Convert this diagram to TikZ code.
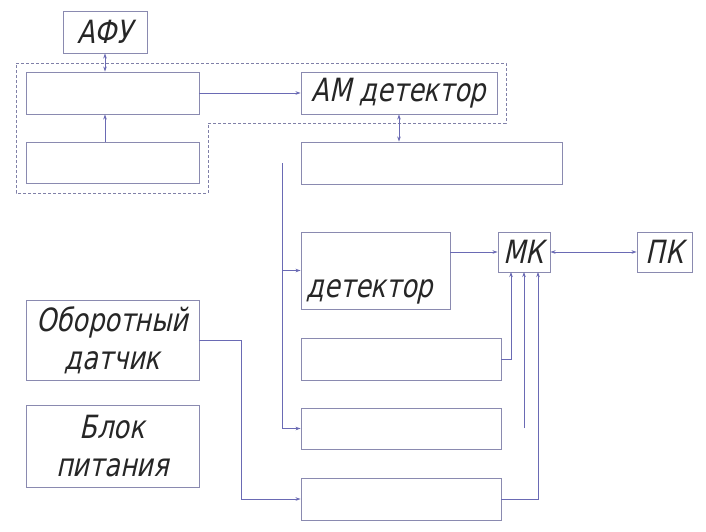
\documentclass[tikz,border=0pt]{standalone}
\usepackage{fontspec}
\newfontfamily\gost[FakeSlant=0.22,FakeStretch=0.8]{DejaVu Sans}
\usetikzlibrary{arrows.meta}
\definecolor{boxc}{HTML}{8A8AB0}
\definecolor{linec}{HTML}{6A6AB4}
\definecolor{dashc}{HTML}{8080A8}
\tikzset{
  gfont/.style={font=\gost\fontsize{32}{38}\selectfont},
  blk/.style={draw=boxc, line width=0.9pt, inner sep=0pt, gfont, align=center, text=black!85},
  conn/.style={draw=linec, line width=0.8pt},
  arr/.style={conn, -{Stealth[length=5pt,width=3.5pt]}},
  biarr/.style={conn, {Stealth[length=5pt,width=3.5pt]}-{Stealth[length=5pt,width=3.5pt]}},
  frame/.style={draw=dashc, line width=0.8pt, dash pattern=on 3pt off 2pt}
}
\begin{document}
\begin{tikzpicture}[x=1pt,y=-1pt]
\useasboundingbox[fill=white] (0,0) rectangle (706,531);
% dashed frame
\draw[frame] (16,63) -- (506,63) -- (506,123) -- (208,123) -- (208,193) -- (16,193) -- cycle;
% blocks
\node[blk, minimum width=84pt, minimum height=42pt] (afu) at (105,32) {АФУ};
\node[blk, minimum width=173pt, minimum height=42pt] (b1) at (112.5,93) {};
\node[blk, minimum width=173pt, minimum height=41pt] (b2) at (112.5,162.5) {};
\node[blk, minimum width=196pt, minimum height=42pt] (am) at (399,93) {АМ детектор};
\node[blk, minimum width=261pt, minimum height=42pt] (b3) at (431.5,163) {};
\node[blk, minimum width=149pt, minimum height=77pt] (b4) at (375.5,270.5) {};
\node[gfont, text=black!85, anchor=base, inner sep=0pt] (b4t) at (370,297) {детектор};
\node[blk, minimum width=52pt, minimum height=40pt] (mk) at (524,252) {МК};
\node[blk, minimum width=55pt, minimum height=40pt] (pk) at (664.5,252) {ПК};
\node[blk, minimum width=200pt, minimum height=42pt] (b5) at (401,359) {};
\node[blk, minimum width=200pt, minimum height=41pt] (b6) at (401,428.5) {};
\node[blk, minimum width=200pt, minimum height=42pt] (b7) at (401,499) {};
\node[blk, minimum width=173pt, minimum height=80pt] (ob) at (112.5,340) {Оборотный\\датчик};
\node[blk, minimum width=173pt, minimum height=82pt] (bp) at (112.5,446) {Блок\\питания};
% coordinates
\coordinate (t) at (282,163);
\coordinate (m1) at (511,272);
\coordinate (m2) at (524,272);
\coordinate (m3) at (538,272);
\coordinate (c6) at (524,428);
\coordinate (ot) at (241,340);
% connectors
\draw[biarr] (afu.south) -- (afu.south |- b1.north);
\draw[arr] (afu.south |- b2.north) -- (afu.south |- b1.south);
\draw[arr] (b1.east) -- (am.west);
\draw[biarr] (am.south) -- (am.south |- b3.north);
\draw[arr] (t) |- (b4.west);
\draw[arr] (t) |- (b6.west);
\draw[arr] (b4.east |- mk.west) -- (mk.west);
\draw[biarr] (mk.east) -- (pk.west);
\draw[arr] (b5.east) -| (m1);
\draw[arr] (c6) -- (m2);
\draw[arr] (b7.east) -| (m3);
\draw[arr] (ob.east) -- (ot) |- (b7.west);
\end{tikzpicture}
\end{document}
